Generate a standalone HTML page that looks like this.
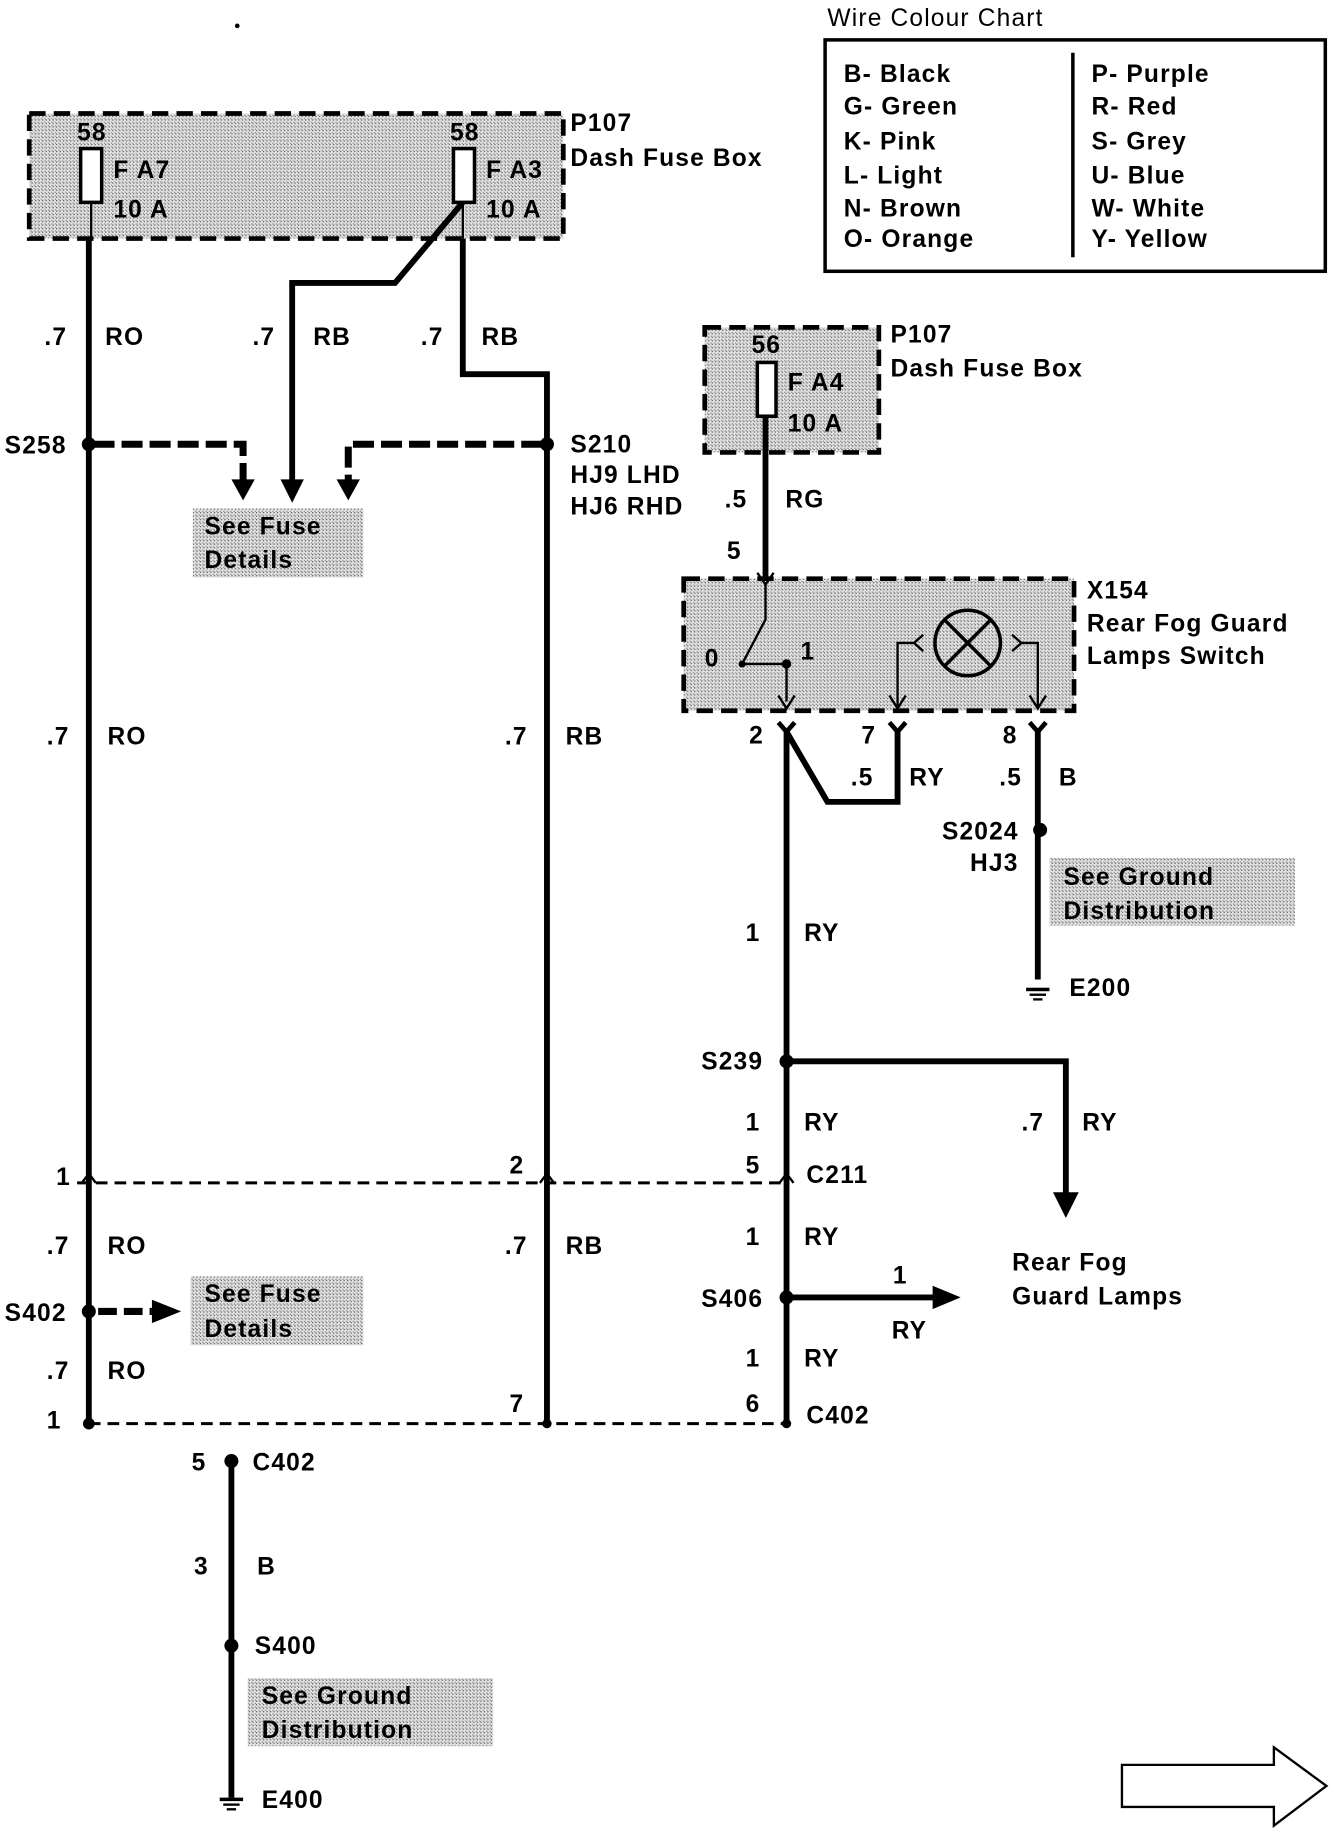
<!DOCTYPE html>
<html><head><meta charset="utf-8"><style>
html,body{margin:0;padding:0;background:#fff}
svg{display:block}
text{font-family:"Liberation Sans",Arial,sans-serif;font-weight:bold;font-size:21px;fill:#000;letter-spacing:1px}
</style></head><body>
<svg width="1344" height="1834" viewBox="0 0 1150 1569" xmlns="http://www.w3.org/2000/svg">
<defs>
<pattern id="g" width="3" height="3" patternUnits="userSpaceOnUse">
<rect width="3" height="3" fill="#e0e0e0"/><rect width="1" height="1" fill="#555"/><rect x="2" y="2" width="1" height="1" fill="#888"/>
</pattern>
</defs>
<g fill="none" stroke="#000">
<rect x="706" y="34" width="428" height="198" stroke-width="3"/>
<line x1="918" y1="45" x2="918" y2="220" stroke-width="3"/>
<rect x="25" y="97" width="457" height="107" fill="url(#g)" stroke-width="4" stroke-dasharray="14,7"/>
<rect x="69" y="127" width="18" height="46" fill="#fff" stroke-width="3"/>
<rect x="388" y="127" width="18" height="46" fill="#fff" stroke-width="3"/>
<line x1="78" y1="173" x2="78" y2="204" stroke-width="2"/>
<line x1="396" y1="173" x2="396" y2="204" stroke-width="2"/>
<line x1="76" y1="204" x2="76" y2="1218" stroke-width="5"/>
<polyline points="396,173 338,242 250,242 250,412" stroke-width="5"/>
<polyline points="396,204 396,320 468,320 468,1218" stroke-width="5"/>
<polyline points="80,380 208,380 208,412" stroke-width="6" stroke-dasharray="18,6"/>
<polyline points="464,380 298,380 298,412" stroke-width="6" stroke-dasharray="18,6"/>
<rect x="165" y="435" width="146" height="59" fill="url(#g)" stroke="none"/>
<rect x="163" y="1092" width="148" height="59" fill="url(#g)" stroke="none"/>
<line x1="66" y1="1012" x2="672" y2="1012" stroke-width="2.5" stroke-dasharray="10,6"/>
<line x1="76" y1="1218" x2="672" y2="1218" stroke-width="2.5" stroke-dasharray="10,6"/>
<line x1="84" y1="1122" x2="130" y2="1122" stroke-width="6" stroke-dasharray="16,6"/>
<line x1="198" y1="1250" x2="198" y2="1538" stroke-width="5"/>
<rect x="212" y="1436" width="210" height="58" fill="url(#g)" stroke="none"/>
<polygon points="960,1510 1090,1510 1090,1495 1135,1528 1090,1562 1090,1546 960,1546" stroke-width="2"/>
<rect x="603" y="280" width="149" height="107" fill="url(#g)" stroke-width="4" stroke-dasharray="14,7"/>
<rect x="648" y="310" width="16" height="46" fill="#fff" stroke-width="3"/>
<line x1="655" y1="356" x2="655" y2="495" stroke-width="5"/>
<rect x="585" y="495" width="334" height="113" fill="url(#g)" stroke-width="4" stroke-dasharray="14,7"/>
<polyline points="648,490 655,500 662,490" stroke-width="2"/>
<polyline points="655,500 655,530 635,568 673,568" stroke-width="2"/>
<line x1="673" y1="568" x2="673" y2="600" stroke-width="2"/>
<polyline points="666,595 673,606 680,595" stroke-width="2"/>
<circle cx="828" cy="550" r="28" stroke-width="3"/>
<line x1="808" y1="530" x2="848" y2="570" stroke-width="3"/>
<line x1="848" y1="530" x2="808" y2="570" stroke-width="3"/>
<polyline points="790,543 782,550 790,557" stroke-width="2"/>
<polyline points="782,550 768,550 768,604" stroke-width="2"/>
<polyline points="866,543 874,550 866,557" stroke-width="2"/>
<polyline points="874,550 888,550 888,604" stroke-width="2"/>
<polyline points="761,595 768,606 775,595" stroke-width="2"/>
<polyline points="881,595 888,606 895,595" stroke-width="2"/>
<polyline points="666,618 673,626 680,618" stroke-width="4"/>
<polyline points="761,618 768,626 775,618" stroke-width="4"/>
<polyline points="881,618 888,626 895,618" stroke-width="4"/>
<polyline points="673,626 708,686 768,686 768,626" stroke-width="5"/>
<line x1="673" y1="626" x2="673" y2="1218" stroke-width="5"/>
<line x1="888" y1="626" x2="888" y2="838" stroke-width="5"/>
<rect x="898" y="734" width="210" height="58" fill="url(#g)" stroke="none"/>
<polyline points="673,908 912,908 912,1022" stroke-width="5"/>
<line x1="673" y1="1110" x2="800" y2="1110" stroke-width="5"/>
<polyline points="70,1012 76,1004 82,1012" stroke-width="2"/>
<polyline points="462,1012 468,1004 474,1012" stroke-width="2"/>
<polyline points="667,1012 673,1004 679,1012" stroke-width="2"/>
</g>
<g fill="#000">
<polygon points="198,410 218,410 208,428"/>
<polygon points="240,410 260,410 250,430"/>
<polygon points="288,410 308,410 298,428"/>
<polygon points="130,1112 130,1132 155,1122"/>
<polygon points="901,1020 923,1020 912,1042"/>
<polygon points="798,1100 798,1120 822,1110"/>
<circle cx="76" cy="380" r="6"/><circle cx="468" cy="380" r="6"/>
<circle cx="76" cy="1122" r="6"/><circle cx="76" cy="1218" r="5"/><circle cx="468" cy="1218" r="4"/><circle cx="673" cy="1218" r="4"/>
<circle cx="198" cy="1250" r="6"/><circle cx="198" cy="1408" r="6"/>
<circle cx="890" cy="710" r="6"/><circle cx="673" cy="908" r="6"/><circle cx="673" cy="1110" r="6"/>
<circle cx="673" cy="568" r="4"/><circle cx="635" cy="568" r="3"/>
<rect x="188" y="1538" width="20" height="3"/><rect x="191" y="1543" width="14" height="2"/><rect x="194" y="1547" width="8" height="2"/>
<rect x="878" y="845" width="20" height="3"/><rect x="881" y="850" width="14" height="2"/><rect x="884" y="854" width="8" height="2"/>
<circle cx="203" cy="22" r="2"/>
</g>
<text x="708" y="22" style="font-weight:normal">Wire Colour Chart</text>
<text x="722" y="70">B- Black</text><text x="722" y="98">G- Green</text><text x="722" y="128">K- Pink</text><text x="722" y="157">L- Light</text><text x="722" y="185">N- Brown</text><text x="722" y="211">O- Orange</text>
<text x="934" y="70">P- Purple</text><text x="934" y="98">R- Red</text><text x="934" y="128">S- Grey</text><text x="934" y="157">U- Blue</text><text x="934" y="185">W- White</text><text x="934" y="211">Y- Yellow</text>
<text x="66" y="120">58</text><text x="385" y="120">58</text>
<text x="97" y="152">F A7</text><text x="97" y="186">10 A</text>
<text x="416" y="152">F A3</text><text x="416" y="186">10 A</text>
<text x="488" y="112">P107</text><text x="488" y="142">Dash Fuse Box</text>
<text x="38" y="295">.7</text><text x="90" y="295">RO</text>
<text x="216" y="295">.7</text><text x="268" y="295">RB</text>
<text x="360" y="295">.7</text><text x="412" y="295">RB</text>
<text x="4" y="388">S258</text>
<text x="488" y="387">S210</text><text x="488" y="413">HJ9 LHD</text><text x="488" y="440">HJ6 RHD</text>
<text x="175" y="457">See Fuse</text><text x="175" y="486">Details</text>
<text x="40" y="637">.7</text><text x="92" y="637">RO</text>
<text x="432" y="637">.7</text><text x="484" y="637">RB</text>
<text x="48" y="1014">1</text><text x="436" y="1004">2</text><text x="638" y="1004">5</text><text x="690" y="1012">C211</text>
<text x="40" y="1073">.7</text><text x="92" y="1073">RO</text>
<text x="432" y="1073">.7</text><text x="484" y="1073">RB</text>
<text x="4" y="1130">S402</text>
<text x="175" y="1114">See Fuse</text><text x="175" y="1144">Details</text>
<text x="40" y="1180">.7</text><text x="92" y="1180">RO</text>
<text x="40" y="1222">1</text><text x="436" y="1208">7</text><text x="638" y="1208">6</text><text x="690" y="1218">C402</text>
<text x="164" y="1258">5</text><text x="216" y="1258">C402</text>
<text x="166" y="1347">3</text><text x="220" y="1347">B</text>
<text x="218" y="1415">S400</text>
<text x="224" y="1458">See Ground</text><text x="224" y="1487">Distribution</text>
<text x="224" y="1547">E400</text>
<text x="643" y="302">56</text><text x="674" y="334">F A4</text><text x="674" y="369">10 A</text>
<text x="762" y="293">P107</text><text x="762" y="322">Dash Fuse Box</text>
<text x="620" y="434">.5</text><text x="672" y="434">RG</text>
<text x="622" y="478">5</text>
<text x="930" y="512">X154</text><text x="930" y="540">Rear Fog Guard</text><text x="930" y="568">Lamps Switch</text>
<text x="603" y="570">0</text><text x="685" y="564">1</text>
<text x="641" y="636">2</text><text x="737" y="636">7</text><text x="858" y="636">8</text>
<text x="728" y="672">.5</text><text x="778" y="672">RY</text>
<text x="855" y="672">.5</text><text x="906" y="672">B</text>
<text x="806" y="718">S2024</text><text x="830" y="745">HJ3</text>
<text x="910" y="757">See Ground</text><text x="910" y="786">Distribution</text>
<text x="915" y="852">E200</text>
<text x="638" y="805">1</text><text x="688" y="805">RY</text>
<text x="600" y="915">S239</text>
<text x="638" y="967">1</text><text x="688" y="967">RY</text>
<text x="874" y="967">.7</text><text x="926" y="967">RY</text>
<text x="638" y="1065">1</text><text x="688" y="1065">RY</text>
<text x="600" y="1118">S406</text>
<text x="764" y="1098">1</text><text x="763" y="1145">RY</text>
<text x="866" y="1087">Rear Fog</text><text x="866" y="1116">Guard Lamps</text>
<text x="638" y="1169">1</text><text x="688" y="1169">RY</text>
</svg>
</body></html>
